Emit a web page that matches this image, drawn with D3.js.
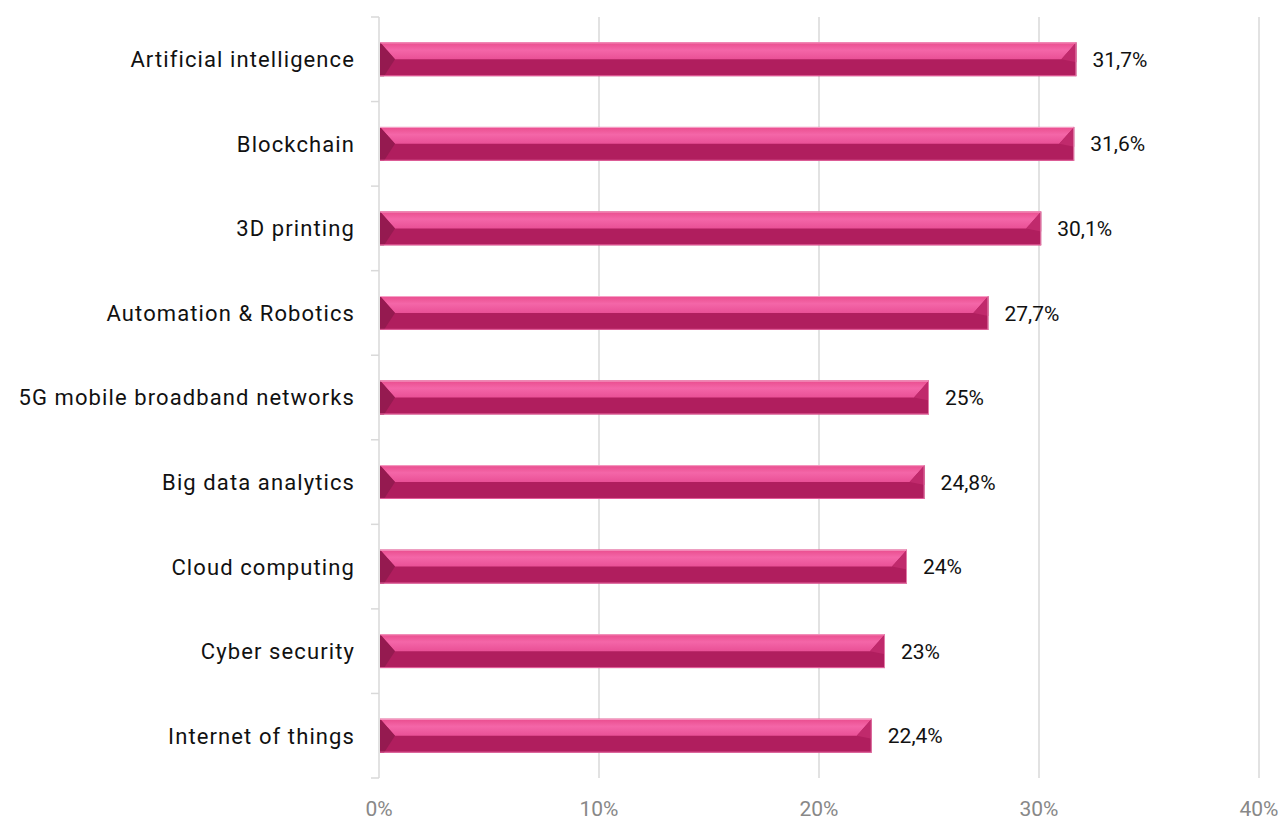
<!DOCTYPE html>
<html>
<head>
<meta charset="utf-8">
<script src="https://cdn.jsdelivr.net/npm/d3@7"></script>
<style>
	body { margin: 0; background: #fff; }
	svg text { font-family: Roboto, "Noto Sans", sans-serif; }
</style>
</head>
<body>
<div id="chart"></div>
<script>
// data
var categories = ["Artificial intelligence", "Blockchain", "3D printing", "Automation & Robotics",
	"5G mobile broadband networks", "Big data analytics", "Cloud computing", "Cyber security", "Internet of things"];
var values = [31.7, 31.6, 30.1, 27.7, 25, 24.8, 24, 23, 22.4];
var ticks = [0, 10, 20, 30, 40];

drawchart()

function drawchart() {
	var W = 1280, H = 820;
	var margin = { top: 17, right: 21, bottom: 42, left: 379 };

	var svg = d3.select("#chart")
		.append("svg")
		.attr("width", W)
		.attr("height", H);

	var defs = svg.append("defs");
	var grad = defs.append("linearGradient")
		.attr("id", "topface")
		.attr("x1", 0).attr("y1", 0).attr("x2", 0).attr("y2", 1);
	grad.append("stop").attr("offset", "0%").attr("stop-color", "#e94c8d");
	grad.append("stop").attr("offset", "45%").attr("stop-color", "#f466a8");
	grad.append("stop").attr("offset", "100%").attr("stop-color", "#e95096");

	var x = d3.scaleLinear()
		.domain([0, 40])
		.range([margin.left, W - margin.right]);
	var y = d3.scaleBand()
		.domain(categories)
		.range([margin.top, H - margin.bottom])
		.paddingInner(0.6)
		.paddingOuter(0.3);

	var y0 = margin.top, y1 = H - margin.bottom;

	// gridlines
	svg.append("g")
		.selectAll("line")
		.data(ticks.slice(1))
		.join("line")
		.attr("x1", d => x(d)).attr("x2", d => x(d))
		.attr("y1", y0).attr("y2", y1)
		.attr("stroke", "#d9d9d9")
		.attr("stroke-width", 1.5);

	// category axis line and ticks
	var ax = svg.append("g");
	ax.append("line")
		.attr("x1", x(0)).attr("x2", x(0))
		.attr("y1", y0).attr("y2", y1)
		.attr("stroke", "#d9d9d9")
		.attr("stroke-width", 1.5);
	ax.selectAll(".tk")
		.data(d3.range(categories.length + 1))
		.join("line")
		.attr("class", "tk")
		.attr("x1", x(0) - 8).attr("x2", x(0))
		.attr("y1", i => y0 + i * (y1 - y0) / categories.length)
		.attr("y2", i => y0 + i * (y1 - y0) / categories.length)
		.attr("stroke", "#d9d9d9")
		.attr("stroke-width", 1.5);

	// x tick labels
	svg.append("g")
		.selectAll("text")
		.data(ticks)
		.join("text")
		.attr("x", d => x(d))
		.attr("y", 816)
		.attr("text-anchor", "middle")
		.style("font-size", "21px")
		.style("fill", "#888888")
		.text(d => d + "%");

	// category labels
	svg.append("g")
		.selectAll("text")
		.data(categories)
		.join("text")
		.attr("x", 355)
		.attr("y", d => y(d) + y.bandwidth() / 2)
		.attr("dy", "0.36em")
		.attr("text-anchor", "end")
		.style("font-size", "22px")
		.style("letter-spacing", "1.1px")
		.style("fill", "#111")
		.text(d => d);

	// bars with bevel look
	var data = categories.map((c, i) => ({ name: c, value: values[i] }));
	var bars = svg.append("g")
		.selectAll("g")
		.data(data)
		.join("g");

	var bev = 15;
	function pts(arr) { return arr.map(p => p.join(",")).join(" "); }

	bars.append("rect")
		.attr("x", x(0) + 1)
		.attr("y", d => y(d.name))
		.attr("width", d => x(d.value) - x(0) - 1)
		.attr("height", y.bandwidth())
		.attr("fill", "#b01e5e");

	// upper face
	bars.append("polygon")
		.attr("points", d => {
			var a = x(0) + 1, b = x(d.value), t = y(d.name), m = t + y.bandwidth() / 2;
			return pts([[a, t], [b, t], [b - bev, m], [a + bev, m]]);
		})
		.attr("fill", "url(#topface)");

	// left bevel
	bars.append("polygon")
		.attr("points", d => {
			var a = x(0) + 1, t = y(d.name), m = t + y.bandwidth() / 2, bt = t + y.bandwidth();
			return pts([[a, t], [a + bev, m], [a + 4, bt], [a, bt]]);
		})
		.attr("fill", "#951a50");

	// right bevel
	bars.append("polygon")
		.attr("points", d => {
			var b = x(d.value), t = y(d.name), m = t + y.bandwidth() / 2;
			return pts([[b, t], [b, m + 3], [b - bev, m]]);
		})
		.attr("fill", "#c02a6c");

	// edges
	bars.append("line")
		.attr("x1", x(0) + 1).attr("x2", d => x(d.value))
		.attr("y1", d => y(d.name) + 0.5).attr("y2", d => y(d.name) + 0.5)
		.attr("stroke", "#f7a3c8").attr("stroke-width", 1);
	bars.append("line")
		.attr("x1", x(0) + 1).attr("x2", d => x(d.value))
		.attr("y1", d => y(d.name) + y.bandwidth() - 0.5).attr("y2", d => y(d.name) + y.bandwidth() - 0.5)
		.attr("stroke", "#e4609c").attr("stroke-width", 1);
	bars.append("line")
		.attr("x1", d => x(d.value) - 0.5).attr("x2", d => x(d.value) - 0.5)
		.attr("y1", d => y(d.name)).attr("y2", d => y(d.name) + y.bandwidth())
		.attr("stroke", "#e37aa8").attr("stroke-width", 1);

	// value labels
	bars.append("text")
		.attr("x", d => x(d.value) + 16)
		.attr("y", d => y(d.name) + y.bandwidth() / 2)
		.attr("dy", "0.36em")
		.style("font-size", "21px")
		.style("fill", "#111")
		.text(d => String(d.value).replace(".", ",") + "%");
}
</script>
</body>
</html>
